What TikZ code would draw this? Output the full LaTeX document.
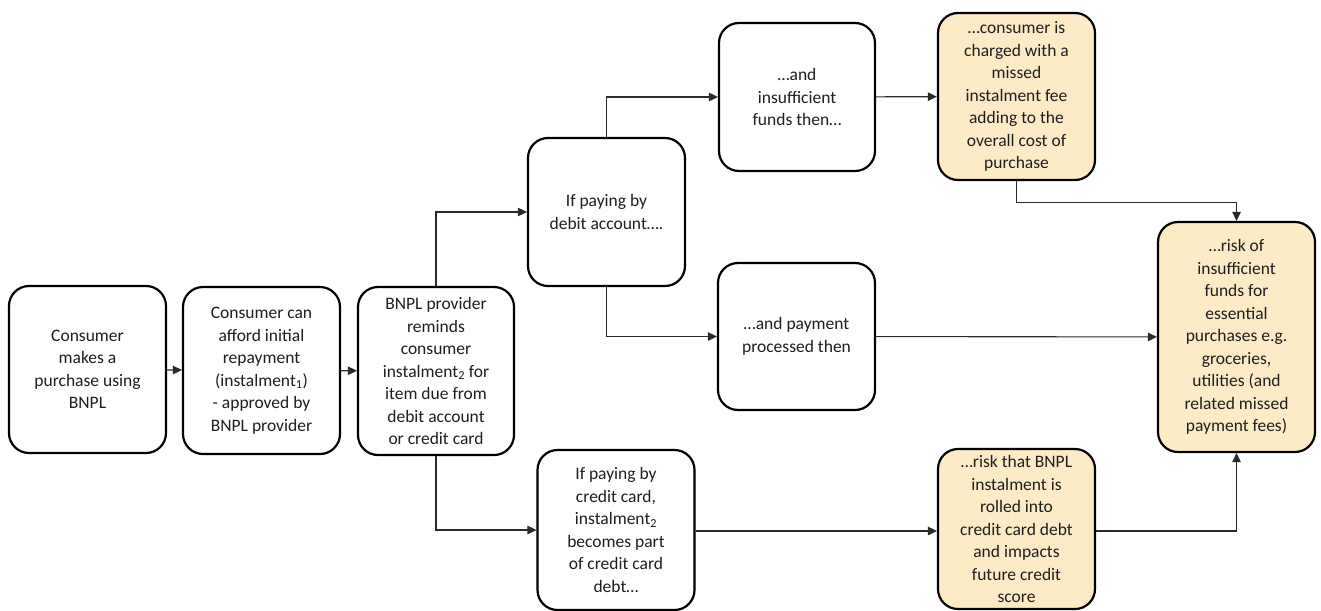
\documentclass[tikz,border=0pt]{standalone}
\usepackage{fontspec}
\setmainfont{Carlito}
\usetikzlibrary{arrows.meta,calc}
\definecolor{boxfill}{HTML}{FDEBC6}
\definecolor{txt}{HTML}{1E1E1E}
\definecolor{conn}{HTML}{2A2A2A}
\tikzset{
  stepbox/.style={draw=black, line width=2.2pt, rounded corners=20pt, fill=white,
    minimum width=157pt, align=center, inner sep=0pt, text=txt,
    font=\fontsize{17.5}{22.5}\selectfont},
  riskbox/.style={stepbox, fill=boxfill},
  link/.style={draw=conn, line width=1.1pt, -{Triangle[length=9pt,width=8.5pt]}}
}
\begin{document}
\begin{tikzpicture}[x=1pt,y=-1pt]
\useasboundingbox (0,0) rectangle (1321,610);
\node[stepbox, minimum height=167pt] (A) at (87.5,369.5) {Consumer\\makes a\\purchase using\\BNPL};
\node[stepbox, minimum height=167pt] (B) at (261.5,370.5) {Consumer can\\afford initial\\repayment\\(instalment\textsubscript{1})\\- approved by\\BNPL provider};
\node[stepbox, minimum height=168pt, minimum width=156pt] (C) at (436,371) {BNPL provider\\reminds\\consumer\\instalment\textsubscript{2} for\\item due from\\debit account\\or credit card};
\node[stepbox, minimum height=148pt] (D) at (606.5,212) {If paying by\\debit account….};
\node[stepbox, minimum height=148pt, minimum width=156pt] (E) at (797,97) {…and\\insufficient\\funds then…};
\node[riskbox, minimum height=167pt] (F) at (1016.5,96.5) {…consumer is\\charged with a\\missed\\instalment fee\\adding to the\\overall cost of\\purchase};
\node[stepbox, minimum height=147pt] (G) at (796.5,336.5) {…and payment\\processed then};
\node[riskbox, minimum height=230pt] (H) at (1236.5,337) {…risk of\\insufficient\\funds for\\essential\\purchases e.g.\\groceries,\\utilities (and\\related missed\\payment fees)};
\node[stepbox, minimum height=160pt] (I) at (616,530) {If paying by\\credit card,\\instalment\textsubscript{2}\\becomes part\\of credit card\\debt…};
\node[riskbox, minimum height=160pt] (J) at (1016.5,529) {…risk that BNPL\\instalment is\\rolled into\\credit card debt\\and impacts\\future credit\\score};
\coordinate (fturn) at ($(F.south)+(0,21)$);
\coordinate (jturn) at (1236.5,531);
\draw[link] (A) -- (B);
\draw[link] (B) -- (C);
\draw[link] (C.north) |- (D.west);
\draw[link] (C.south) |- (I.west);
\draw[link] (D.north) |- (E.west);
\draw[link] (D.south) |- (G.west);
\draw[link] (E) -- (F);
\draw[link] (F.south) -- (fturn) -| (H.north);
\draw[link] (G) -- (H);
\draw[link] (I.east |- jturn) -- (J.west |- jturn);
\draw[link] (J.east |- jturn) -- (jturn) -- (H.south);
\end{tikzpicture}
\end{document}
